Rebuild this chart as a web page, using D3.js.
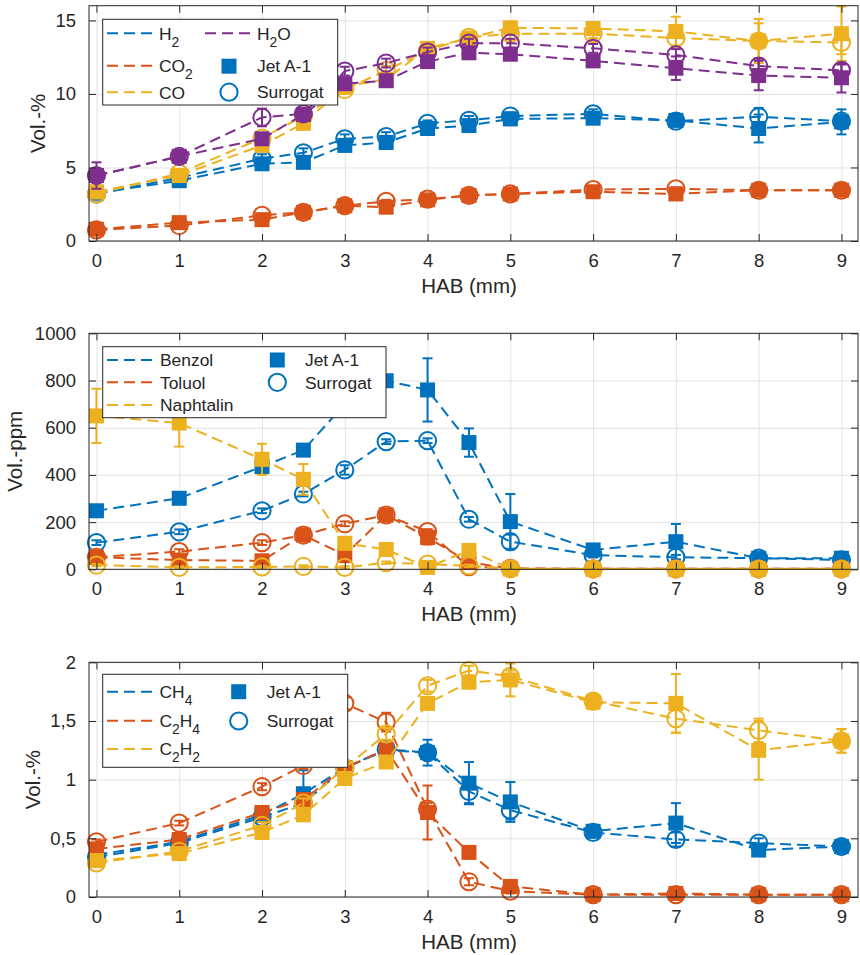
<!DOCTYPE html>
<html>
<head>
<meta charset="utf-8">
<script src="https://cdn.jsdelivr.net/npm/d3@7"></script>
<style>
  body { margin: 0; background: #fff; }
  svg { display: block; }
  text { font-family: "Liberation Sans", Arial, Helvetica, sans-serif; fill: #262626; }
</style>
</head>
<body>
<svg id="fig" width="860" height="955"></svg>
<script>
// Height above burner (mm) of every sampling point
const hab = [0, 1, 2, 2.5, 3, 3.5, 4, 4.5, 5, 6, 7, 8, 9];

// --- Main species, Vol.-% ---
const h2Jet     = [3.25, 4.1, 5.25, 5.35, 6.5, 6.7, 7.65, 7.85, 8.3, 8.35, 8.2, 7.65, 8.1];
const h2JetErr  = [0.2, 0.15, 0.2, 0.2, 0.2, 0.3, 0.3, 0.3, 0.25, 0.25, 0.3, 0.95, 0.85];
const h2Sur     = [3.2, 4.3, 5.6, 6.0, 6.95, 7.1, 8.0, 8.2, 8.5, 8.65, 8.15, 8.45, 8.15];
const h2SurErr  = [0.3, 0.2, 0.3, 0.3, 0.3, 0.3, 0.2, 0.3, 0.25, 0.3, 0.3, 0.6, 0.4];
const co2Jet    = [0.8, 1.25, 1.45, 1.95, 2.4, 2.3, 2.8, 3.1, 3.2, 3.35, 3.2, 3.45, 3.45];
const co2JetErr = [0.15, 0.15, 0.15, 0.15, 0.15, 0.15, 0.15, 0.15, 0.15, 0.15, 0.15, 0.15, 0.15];
const co2Sur    = [0.75, 1.05, 1.75, 1.95, 2.4, 2.7, 2.85, 3.1, 3.2, 3.5, 3.55, 3.45, 3.45];
const co2SurErr = [0.1, 0.1, 0.1, 0.1, 0.1, 0.1, 0.1, 0.1, 0.1, 0.1, 0.1, 0.1, 0.1];
const coJet     = [3.35, 4.45, 6.5, 8.0, 10.5, 11.0, 13.1, 13.8, 14.5, 14.45, 14.25, 13.6, 14.1];
const coJetErr  = [0.2, 0.3, 0.3, 0.3, 0.3, 0.3, 0.3, 0.3, 0.3, 0.3, 1.0, 1.5, 1.85];
const coSur     = [3.2, 4.6, 7.0, 8.5, 10.3, 11.6, 12.95, 13.85, 14.1, 14.1, 13.8, 13.6, 13.5];
const coSurErr  = [0.3, 0.3, 0.3, 0.3, 0.3, 0.3, 0.2, 0.3, 0.4, 0.3, 0.5, 1.2, 0.8];
const h2oJet    = [4.45, 5.75, 6.95, 8.6, 10.7, 10.9, 12.2, 12.8, 12.7, 12.25, 11.75, 11.25, 11.1];
const h2oJetErr = [0.9, 0.3, 0.3, 0.3, 0.3, 0.3, 0.3, 0.3, 0.3, 0.3, 0.8, 1.0, 1.0];
const h2oSur    = [4.45, 5.75, 8.4, 8.65, 11.55, 12.1, 12.85, 13.45, 13.45, 13.1, 12.65, 11.9, 11.6];
const h2oSurErr = [0.3, 0.3, 0.6, 0.3, 0.3, 0.3, 0.3, 0.3, 0.3, 0.3, 0.4, 0.5, 0.4];

// --- Aromatics, Vol.-ppm ---
const benzJet     = [248, 301, 435, 505, 700, 799, 760, 537, 202, 82, 117, 47, 47];
const benzJetErr  = [10, 10, 20, 20, 20, 20, 134, 60, 117, 15, 75, 10, 10];
const benzSur     = [113, 159, 248, 319, 421, 541, 545, 212, 117, 60, 51, 47, 40];
const benzSurErr  = [10, 10, 10, 10, 20, 10, 10, 10, 30, 10, 10, 5, 5];
const tolJet      = [51, 39, 36, 145, 60, 230, 135, 30, 3, 2, 2, 2, 2];
const tolJetErr   = [10, 10, 10, 10, 30, 10, 30, 10, 3, 2, 2, 2, 2];
const tolSur      = [51, 75, 113, 145, 193, 230, 160, 11, 4, 2, 2, 2, 2];
const tolSurErr   = [10, 10, 10, 10, 10, 10, 10, 5, 2, 2, 2, 2, 2];
const naphJet     = [650, 620, 466, 381, 110, 84, 8, 80, 2, 1, 1, 1, 1];
const naphJetErr  = [115, 100, 66, 65, 20, 20, 10, 10, 2, 2, 2, 2, 2];
const naphSur     = [18, 8, 10, 12, 8, 28, 22, 15, 2, 1, 1, 1, 1];
const naphSurErr  = [5, 5, 5, 5, 5, 5, 5, 5, 2, 2, 2, 2, 2];

// --- C1/C2 hydrocarbons, Vol.-% ---
const ch4Jet      = [0.36, 0.47, 0.70, 0.88, 1.10, 1.25, 1.23, 0.97, 0.81, 0.56, 0.63, 0.40, 0.43];
const ch4JetErr   = [0.02, 0.03, 0.04, 0.2, 0.04, 0.05, 0.11, 0.18, 0.17, 0.05, 0.17, 0.05, 0.05];
const ch4Sur      = [0.34, 0.46, 0.68, 0.80, 1.10, 1.26, 1.23, 0.90, 0.74, 0.55, 0.49, 0.46, 0.43];
const ch4SurErr   = [0.03, 0.03, 0.04, 0.05, 0.04, 0.05, 0.05, 0.1, 0.08, 0.04, 0.06, 0.04, 0.03];
const c2h4Jet     = [0.41, 0.49, 0.72, 0.83, 1.10, 1.26, 0.72, 0.38, 0.09, 0.02, 0.03, 0.02, 0.02];
const c2h4JetErr  = [0.03, 0.03, 0.05, 0.05, 0.05, 0.05, 0.23, 0.05, 0.02, 0.01, 0.01, 0.01, 0.01];
const c2h4Sur     = [0.47, 0.63, 0.94, 1.12, 1.65, 1.49, 0.75, 0.13, 0.05, 0.02, 0.02, 0.02, 0.02];
const c2h4SurErr  = [0.02, 0.02, 0.03, 0.03, 0.05, 0.08, 0.05, 0.03, 0.02, 0.01, 0.01, 0.01, 0.01];
const c2h2Jet     = [0.31, 0.37, 0.55, 0.70, 1.01, 1.15, 1.65, 1.83, 1.85, 1.66, 1.65, 1.25, 1.33];
const c2h2JetErr  = [0.02, 0.03, 0.04, 0.04, 0.04, 0.05, 0.05, 0.05, 0.14, 0.06, 0.25, 0.25, 0.1];
const c2h2Sur     = [0.29, 0.39, 0.61, 0.80, 1.10, 1.39, 1.80, 1.93, 1.88, 1.67, 1.52, 1.42, 1.33];
const c2h2SurErr  = [0.02, 0.03, 0.03, 0.04, 0.04, 0.05, 0.05, 0.04, 0.05, 0.06, 0.12, 0.1, 0.1];

// Axis ticks
const xTicks = [0, 1, 2, 3, 4, 5, 6, 7, 8, 9];
const yTicks1 = [0, 5, 10, 15];
const yTicks2 = [0, 200, 400, 600, 800, 1000];
const yTicks3 = [0, 0.5, 1, 1.5, 2];

const C = { blue: "#0072BD", orange: "#D95319", yellow: "#EDB120", purple: "#7E2F8E" };

const panels = [
  {
    top: 5.7, bottom: 241, ymax: 16, yticks: yTicks1, fmt: d => String(d),
    ylabel: "Vol.-%", ylabelX: 38,
    series: [
      { jet: h2Jet, jetErr: h2JetErr, sur: h2Sur, surErr: h2SurErr, color: C.blue, name: [["H"], ["2", 1]] },
      { jet: co2Jet, jetErr: co2JetErr, sur: co2Sur, surErr: co2SurErr, color: C.orange, name: [["CO"], ["2", 1]] },
      { jet: coJet, jetErr: coJetErr, sur: coSur, surErr: coSurErr, color: C.yellow, name: [["CO"]] },
      { jet: h2oJet, jetErr: h2oJetErr, sur: h2oSur, surErr: h2oSurErr, color: C.purple, name: [["H"], ["2", 1], ["O"]] }
    ],
    legend: {
      box: [102.7, 19.3, 337.7, 105],
      lines: [[107, 33.3], [107, 65.7], [107, 92.3], [205, 33.3]],
      textDx: 52,
      jet: [229, 66.2], sur: [229, 92.2], fuelTextX: 257
    }
  },
  {
    top: 333.3, bottom: 569.3, ymax: 1000, yticks: yTicks2, fmt: d => String(d),
    ylabel: "Vol.-ppm", ylabelX: 15,
    series: [
      { jet: benzJet, jetErr: benzJetErr, sur: benzSur, surErr: benzSurErr, color: C.blue, name: [["Benzol"]] },
      { jet: tolJet, jetErr: tolJetErr, sur: tolSur, surErr: tolSurErr, color: C.orange, name: [["Toluol"]] },
      { jet: naphJet, jetErr: naphJetErr, sur: naphSur, surErr: naphSurErr, color: C.yellow, name: [["Naphtalin"]] }
    ],
    legend: {
      box: [102.7, 346.7, 386, 417.7],
      lines: [[107, 360], [107, 382.3], [107, 405]],
      textDx: 53,
      jet: [277.3, 360], sur: [277.3, 382.3], fuelTextX: 305
    }
  },
  {
    top: 662.3, bottom: 897, ymax: 2, yticks: yTicks3, fmt: d => String(d).replace(".", ","),
    ylabel: "Vol.-%", ylabelX: 33,
    series: [
      { jet: ch4Jet, jetErr: ch4JetErr, sur: ch4Sur, surErr: ch4SurErr, color: C.blue, name: [["CH"], ["4", 1]] },
      { jet: c2h4Jet, jetErr: c2h4JetErr, sur: c2h4Sur, surErr: c2h4SurErr, color: C.orange, name: [["C"], ["2", 1], ["H"], ["4", 1]] },
      { jet: c2h2Jet, jetErr: c2h2JetErr, sur: c2h2Sur, surErr: c2h2SurErr, color: C.yellow, name: [["C"], ["2", 1], ["H"], ["2", 1]] }
    ],
    legend: {
      box: [102.7, 674.3, 347.7, 767.3],
      lines: [[107, 691.7], [107, 720.7], [107, 749]],
      textDx: 52.5,
      jet: [238.7, 691.7], sur: [238.7, 721], fuelTextX: 266.7
    }
  }
];

const W = { left: 89, right: 858 };
const TICK_FONT = 18.5, LABEL_FONT = 20.5, LEGEND_FONT = 17.4;
const SQ = 15, CR = 8.6, LW = 2, DASH = "11,6";

const svg = d3.select("#fig");
const x = d3.scaleLinear().domain([-0.09, 9.2]).range([W.left, W.right]);

// chemical names with subscripts
function addName(sel, parts, fs) {
  parts.forEach(([t, sub], i) => {
    const ts = sel.append("tspan").text(t);
    const prevSub = i > 0 && parts[i - 1][1];
    if (sub) ts.attr("dy", prevSub ? 0 : 7).attr("font-size", fs * 0.8);
    else if (prevSub) ts.attr("dy", -7).attr("font-size", fs);
  });
}

function drawSeries(g, y, vals, errs, color, filled) {
  const pts = hab.map((h, i) => ({ h, v: vals[i], e: errs[i] }));
  g.append("path")
    .datum(pts)
    .attr("fill", "none")
    .attr("stroke", color)
    .attr("stroke-width", LW)
    .attr("stroke-dasharray", DASH)
    .attr("d", d3.line().x(d => x(d.h)).y(d => y(d.v)));
  const eb = g.append("g").attr("stroke", color).attr("stroke-width", LW).attr("fill", "none");
  pts.forEach(d => {
    const cx = x(d.h), y0 = y(d.v - d.e), y1 = y(d.v + d.e);
    eb.append("line").attr("x1", cx).attr("x2", cx).attr("y1", y0).attr("y2", y1);
    eb.append("line").attr("x1", cx - 5).attr("x2", cx + 5).attr("y1", y0).attr("y2", y0);
    eb.append("line").attr("x1", cx - 5).attr("x2", cx + 5).attr("y1", y1).attr("y2", y1);
  });
  if (filled) {
    g.append("g").selectAll("rect").data(pts).join("rect")
      .attr("x", d => x(d.h) - SQ / 2).attr("y", d => y(d.v) - SQ / 2)
      .attr("width", SQ).attr("height", SQ).attr("fill", color);
  } else {
    g.append("g").selectAll("circle").data(pts).join("circle")
      .attr("cx", d => x(d.h)).attr("cy", d => y(d.v)).attr("r", CR)
      .attr("fill", "none").attr("stroke", color).attr("stroke-width", LW);
  }
}

panels.forEach(p => {
  const y = d3.scaleLinear().domain([0, p.ymax]).range([p.bottom, p.top]);
  const h = p.bottom - p.top, w = W.right - W.left;
  const g = svg.append("g");

  // grid
  g.append("g").attr("transform", `translate(0,${p.bottom})`)
    .call(d3.axisBottom(x).tickValues(xTicks).tickSize(-h).tickFormat(""))
    .call(s => s.select(".domain").remove())
    .call(s => s.selectAll("line").attr("stroke", "#e3e3e3").attr("stroke-width", 1));
  g.append("g").attr("transform", `translate(${W.left},0)`)
    .call(d3.axisLeft(y).tickValues(p.yticks).tickSize(-w).tickFormat(""))
    .call(s => s.select(".domain").remove())
    .call(s => s.selectAll("line").attr("stroke", "#e3e3e3").attr("stroke-width", 1));

  // data
  const dg = g.append("g");
  p.series.forEach(s => {
    drawSeries(dg, y, s.sur, s.surErr, s.color, false);
    drawSeries(dg, y, s.jet, s.jetErr, s.color, true);
  });

  // axes with inward ticks on all four sides
  const styleAxis = s => {
    s.select(".domain").remove();
    s.selectAll("line").attr("stroke", "#262626").attr("stroke-width", 1);
    s.selectAll("text").attr("fill", "#262626").attr("font-size", TICK_FONT)
      .attr("font-family", '"Liberation Sans", Arial, sans-serif');
  };
  g.append("g").attr("transform", `translate(0,${p.bottom})`)
    .call(d3.axisBottom(x).tickValues(xTicks).tickSizeInner(-7).tickSizeOuter(0).tickPadding(12.4))
    .call(styleAxis);
  g.append("g").attr("transform", `translate(0,${p.top})`)
    .call(d3.axisTop(x).tickValues(xTicks).tickSizeInner(-7).tickSizeOuter(0).tickFormat(""))
    .call(styleAxis);
  g.append("g").attr("transform", `translate(${W.left},0)`)
    .call(d3.axisLeft(y).tickValues(p.yticks).tickSizeInner(-7).tickSizeOuter(0).tickPadding(13).tickFormat(p.fmt))
    .call(styleAxis);
  g.append("g").attr("transform", `translate(${W.right},0)`)
    .call(d3.axisRight(y).tickValues(p.yticks).tickSizeInner(-7).tickSizeOuter(0).tickFormat(""))
    .call(styleAxis);
  g.append("rect").attr("x", W.left).attr("y", p.top).attr("width", w).attr("height", h)
    .attr("fill", "none").attr("stroke", "#262626").attr("stroke-width", 1);

  // axis labels
  g.append("text").attr("x", 469).attr("y", p.bottom + 51.5).attr("text-anchor", "middle")
    .attr("font-size", LABEL_FONT).text("HAB (mm)");
  g.append("text").attr("transform", `translate(${p.ylabelX},${(p.top + p.bottom) / 2}) rotate(-90)`)
    .attr("text-anchor", "middle").attr("dy", "0.35em").attr("font-size", LABEL_FONT).text(p.ylabel);

  // legend
  const L = p.legend;
  const lg = g.append("g");
  lg.append("rect").attr("x", L.box[0]).attr("y", L.box[1])
    .attr("width", L.box[2] - L.box[0]).attr("height", L.box[3] - L.box[1])
    .attr("fill", "#fff").attr("stroke", "#262626").attr("stroke-width", 1);
  p.series.forEach((s, i) => {
    const [lx, ly] = L.lines[i];
    lg.append("line").attr("x1", lx).attr("x2", lx + 49).attr("y1", ly).attr("y2", ly)
      .attr("stroke", s.color).attr("stroke-width", LW).attr("stroke-dasharray", DASH);
    const t = lg.append("text").attr("x", lx + L.textDx).attr("y", ly).attr("dy", "0.36em")
      .attr("font-size", LEGEND_FONT);
    addName(t, s.name, LEGEND_FONT);
  });
  lg.append("rect").attr("x", L.jet[0] - SQ / 2).attr("y", L.jet[1] - SQ / 2)
    .attr("width", SQ).attr("height", SQ).attr("fill", C.blue);
  lg.append("text").attr("x", L.fuelTextX).attr("y", L.jet[1]).attr("dy", "0.36em")
    .attr("font-size", LEGEND_FONT).text("Jet A-1");
  lg.append("circle").attr("cx", L.sur[0]).attr("cy", L.sur[1]).attr("r", CR)
    .attr("fill", "none").attr("stroke", C.blue).attr("stroke-width", LW);
  lg.append("text").attr("x", L.fuelTextX).attr("y", L.sur[1]).attr("dy", "0.36em")
    .attr("font-size", LEGEND_FONT).text("Surrogat");
});
</script>
</body>
</html>
